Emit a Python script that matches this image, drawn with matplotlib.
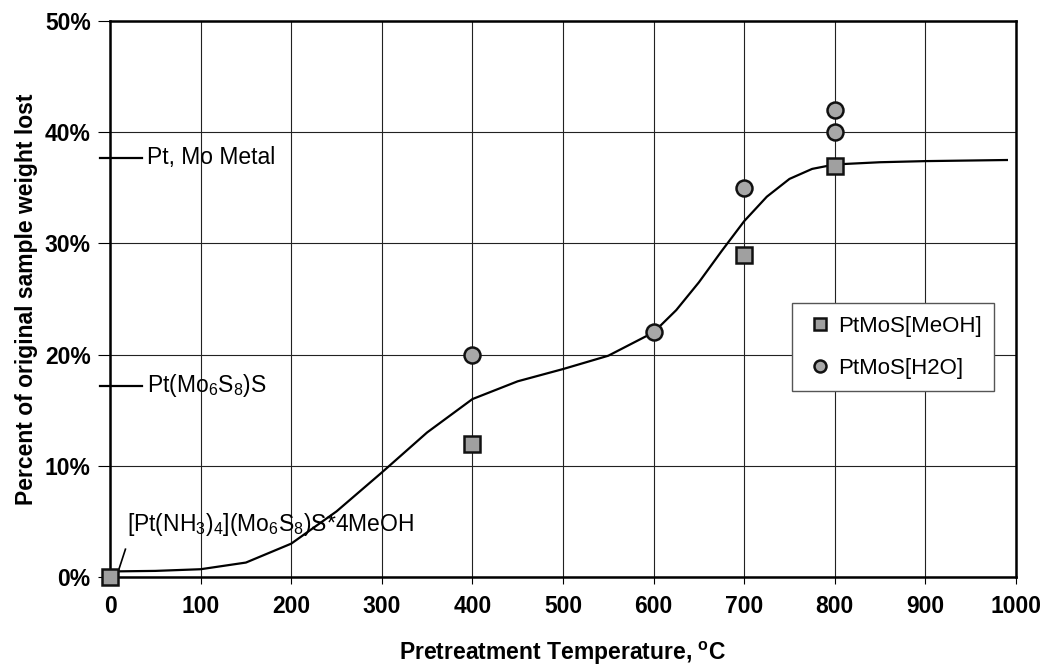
import numpy as np
import matplotlib
matplotlib.use('Agg')
import matplotlib.pyplot as plt

plt.rcParams['font.family'] = ['Liberation Sans', 'DejaVu Sans']
plt.rcParams['mathtext.fontset'] = 'custom'
plt.rcParams['mathtext.rm'] = 'Liberation Sans'
plt.rcParams['mathtext.bf'] = 'Liberation Sans:bold'
plt.rcParams['mathtext.default'] = 'regular'

# -- data
meoh_t = [0, 400, 700, 800]
meoh_loss = [0, 12, 29, 37]
h2o_t = [400, 600, 700, 800, 800]
h2o_loss = [20, 22, 35, 40, 42]

# trend curve (read point by point)
curve_t = [0, 50, 100, 150, 200, 250, 300, 350, 400, 450, 500, 550, 600,
           625, 650, 675, 700, 725, 750, 775, 800, 850, 900, 990]
curve_loss = [0.5, 0.55, 0.7, 1.3, 3.0, 5.9, 9.4, 13.0, 16.0, 17.6, 18.7, 19.9, 22.0,
              24.0, 26.5, 29.3, 32.0, 34.2, 35.8, 36.7, 37.1, 37.3, 37.4, 37.5]

# reference compositions
ref_loss = [37.7, 17.2]
ref_names = ['Pt, Mo Metal', 'Pt(Mo$_6$S$_8$)S']

fig = plt.figure(figsize=(10.45, 6.69), dpi=100)
ax = fig.add_axes([0.1053, 0.1375, 0.8669, 0.8311])

ax.plot(curve_t, curve_loss, color='black', lw=1.6, zorder=3)
ax.plot(meoh_t, meoh_loss, ls='none', marker='s', ms=11, mfc='#a0a0a0', mec='#111111',
        mew=1.8, label='PtMoS[MeOH]', clip_on=False, zorder=4)
ax.plot(h2o_t, h2o_loss, ls='none', marker='o', ms=11.5, mfc='#a8a8a8', mec='#111111',
        mew=1.8, label='PtMoS[H2O]', clip_on=False, zorder=4)

ax.set_xlim(0, 1000)
ax.set_ylim(0, 50)
ax.set_xticks(np.arange(0, 1001, 100))
ax.set_yticks(np.arange(0, 51, 10))
ax.set_yticklabels([f'{v}%' for v in range(0, 51, 10)])
ax.grid(True, color='#222222', lw=0.8)
ax.set_axisbelow(True)
for s in ax.spines.values():
    s.set_linewidth(1.8)
ax.tick_params(axis='x', direction='out', length=5, width=0.8, labelsize=16.5, pad=8)
ax.tick_params(axis='y', direction='out', length=9, width=0.8, labelsize=16.5, pad=5)
for lab in ax.get_xticklabels() + ax.get_yticklabels():
    lab.set_fontweight('bold')

ax.set_xlabel('Pretreatment Temperature, $^\\mathbf{o}$C', fontsize=16.5, fontweight='bold', labelpad=16)
ax.set_ylabel('Percent of original sample weight lost', fontsize=16.5, fontweight='bold', labelpad=5)

# reference markers on the left axis
for y, name in zip(ref_loss, ref_names):
    ax.plot([-11, 35], [y, y], color='black', lw=1.6, clip_on=False)
    ax.text(41, y, name, fontsize=16.5, va='center', ha='left')

ax.plot([9, 17], [0.5, 2.5], color='black', lw=1.2, zorder=3)
ax.text(19, 4.7, '[Pt(NH$_3$)$_4$](Mo$_6$S$_8$)S*4MeOH', fontsize=16.5, va='center', ha='left')

leg = ax.legend(loc='upper left', bbox_to_anchor=(0.7525, 0.492), fontsize=16,
                frameon=True, fancybox=False, edgecolor='#555555', framealpha=1,
                handlelength=1.4, handletextpad=0.15, markerscale=0.75,
                borderpad=0.55, labelspacing=0.95, borderaxespad=0)
leg.get_frame().set_linewidth(1.0)

fig.savefig('out.png', dpi=100)
